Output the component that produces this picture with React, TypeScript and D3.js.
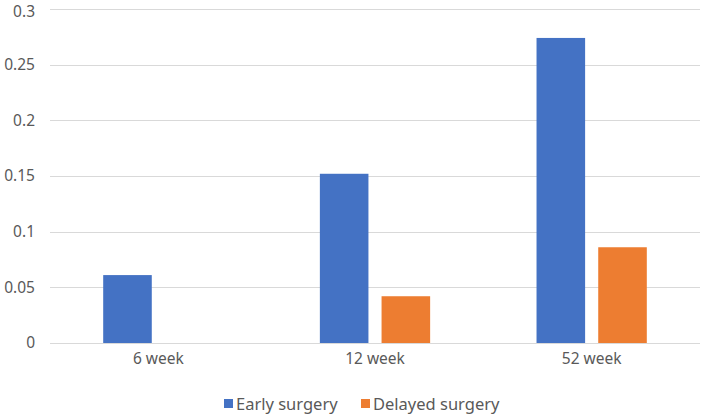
import React from "react";
import * as d3 from "d3";

const categories = ["6 week", "12 week", "52 week"];
const seriesNames = ["Early surgery", "Delayed surgery"];
const earlySurgery = [0.061, 0.152, 0.274];
const delayedSurgery = [0, 0.042, 0.086];
const yTicks = [0, 0.05, 0.1, 0.15, 0.2, 0.25, 0.3];
const yTickLabels = ["0", "0.05", "0.1", "0.15", "0.2", "0.25", "0.3"];
const colors = ["#4472C4", "#ED7D31"];

const W = 709;
const H = 414;
const left = 50;
const right = 700;
const top = 9;
const bottom = 343;
const FONT = "'Noto Sans', 'Open Sans', sans-serif";

export default function App() {
  const x = d3.scaleBand<string>().domain(categories).range([left, right]).paddingInner(0).paddingOuter(0);
  const y = d3.scaleLinear().domain([0, 0.3]).range([bottom, top]);
  const bw = x.bandwidth() / 4.46;
  const gap = bw * 0.27;
  const series = [earlySurgery, delayedSurgery];

  return (
    <svg width={W} height={H} style={{ position: "absolute", left: 0, top: 0, background: "#fff" }} fontFamily={FONT}>
      <rect x={0} y={0} width={W} height={H} fill="#fff" />
      {yTicks.map((t, i) => (
        <g key={i}>
          <line x1={left} x2={right} y1={Math.round(y(t)) + 0.5} y2={Math.round(y(t)) + 0.5} stroke="#d9d9d9" strokeWidth={1} />
          <text x={35} y={Math.max(y(t), 12)} dy="0.35em" textAnchor="end" fontSize={15.5} fill="#595959">
            {yTickLabels[i]}
          </text>
        </g>
      ))}
      {categories.map((c, ci) => {
        const cx = (x(c) as number) + x.bandwidth() / 2;
        return (
          <g key={c}>
            {series.map((s, si) => {
              const bx = si === 0 ? cx - gap / 2 - bw : cx + gap / 2;
              const v = s[ci];
              if (v <= 0) return null;
              return <rect key={si} x={bx} y={y(v)} width={bw} height={y(0) - y(v)} fill={colors[si]} />;
            })}
            <text x={cx} y={359} dy="0.35em" textAnchor="middle" fontSize={15.5} fill="#595959">
              {c}
            </text>
          </g>
        );
      })}
      <g>
        <rect x={224} y={399} width={9} height={9} fill={colors[0]} />
        <text x={236} y={404} dy="0.35em" fontSize={16.5} fill="#595959">{seriesNames[0]}</text>
        <rect x={361} y={399} width={9} height={9} fill={colors[1]} />
        <text x={373} y={404} dy="0.35em" fontSize={16.5} fill="#595959">{seriesNames[1]}</text>
      </g>
    </svg>
  );
}
